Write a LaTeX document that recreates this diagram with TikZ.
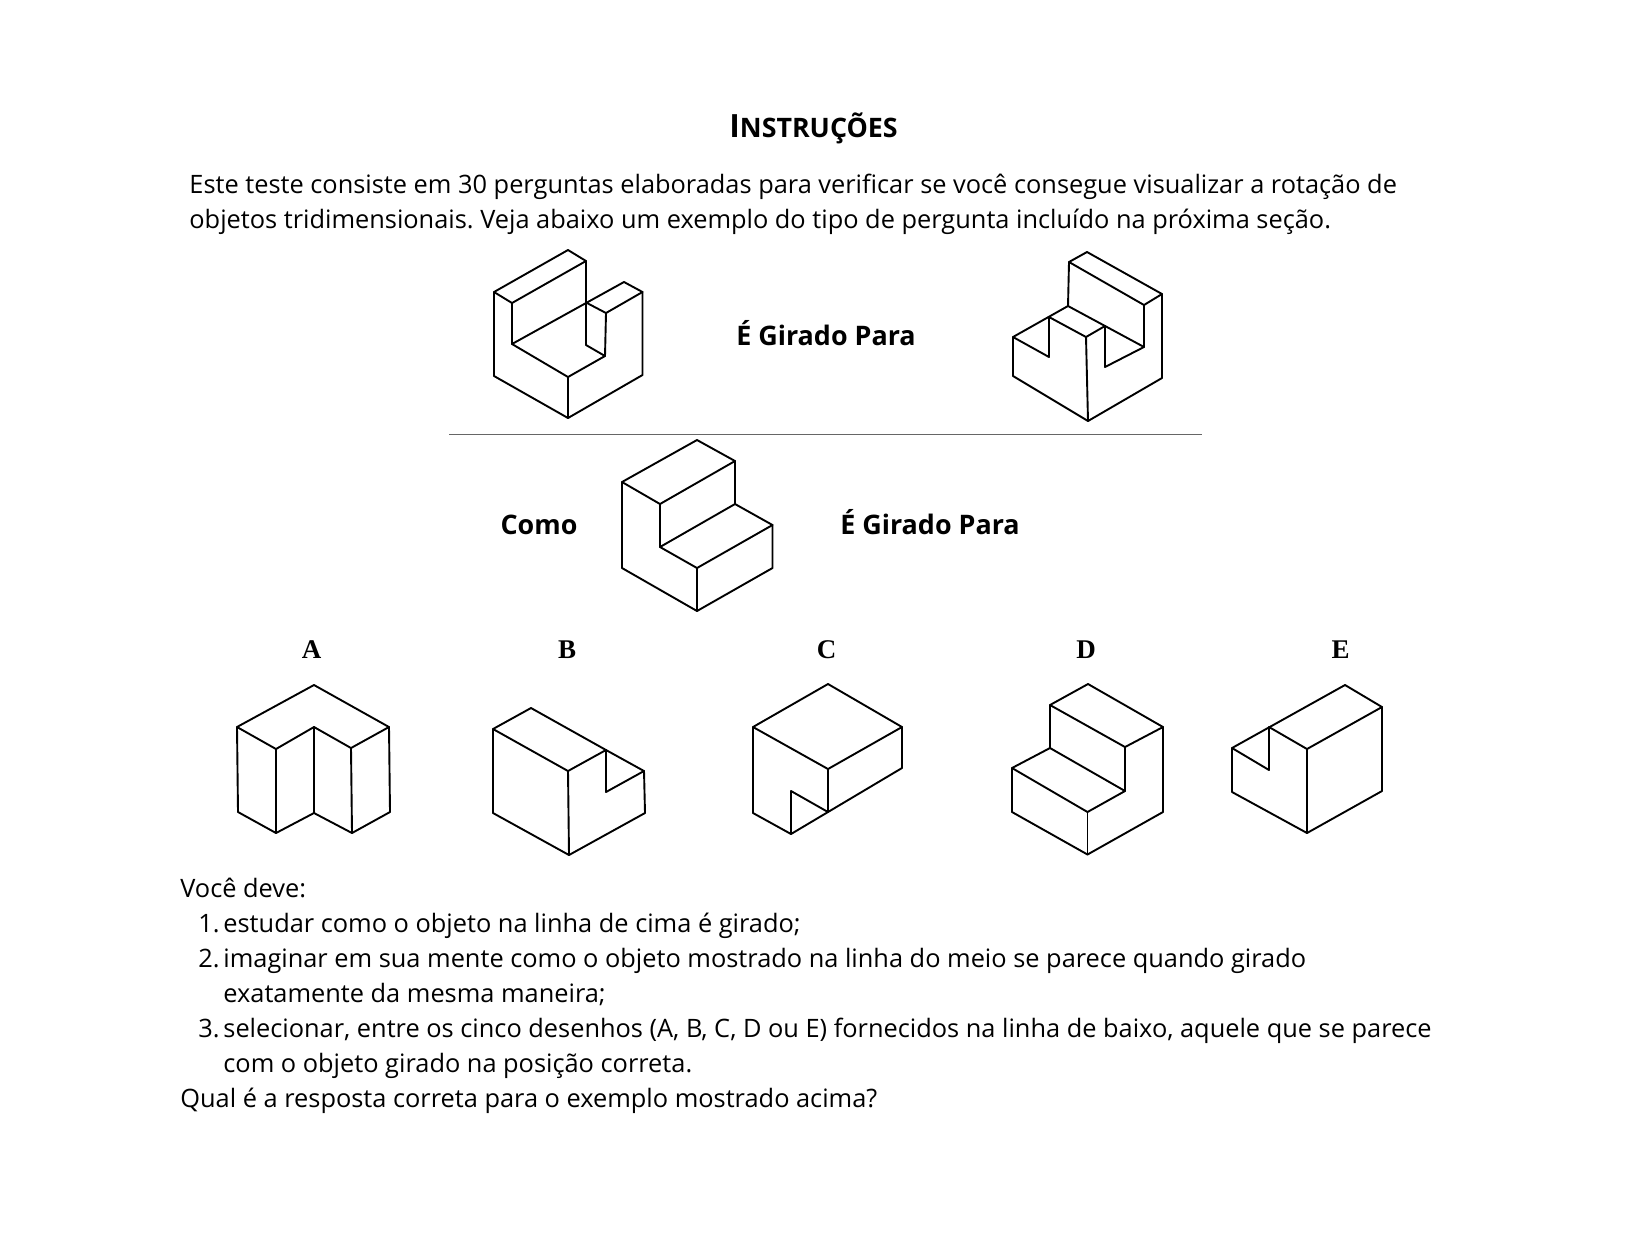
\documentclass[tikz,border=0pt]{standalone}
\usepackage{fontspec}
\setmainfont{Open Sans}
\newfontfamily\letterfont{Liberation Serif}
\usepackage{tikz}
\usetikzlibrary{positioning}
\frenchspacing
\tikzset{
    solidline/.style={draw, line width=0.95pt, line join=round, line cap=round},
    bodytext/.style={anchor=base west, inner sep=0pt, font=\fontsize{12.68}{16}\selectfont},
    caption/.style={anchor=base, inner sep=0pt, font=\fontsize{13.45}{16}\selectfont\bfseries},
    choice/.style={anchor=base, inner sep=0pt, font=\fontsize{13.5}{16}\selectfont\letterfont\bfseries}
}

\begin{document}
\begin{tikzpicture}[x=0.5pt, y=-0.5pt]
    \useasboundingbox (0,0) rectangle (1625,1250);

    % Heading and introduction
    \node[anchor=base, inner sep=0pt, font=\fontsize{16}{18}\selectfont\bfseries] (heading) at (813.5,137)
        {I{\fontsize{13.4}{18}\selectfont NSTRUÇÕES}};
    \node[bodytext] (intro1) at (189,193) {Este teste consiste em 30 perguntas elaboradas para verificar se você consegue visualizar a rotação de};
    \node[bodytext] (intro2) at (189,228) {objetos tridimensionais. Veja abaixo um exemplo do tipo de pergunta incluído na próxima seção.};

    % Top row
    \draw[solidline] (568,250) -- (586,261) -- (512,303) -- (494,292) -- cycle;
    \draw[solidline] (494,292) -- (494,376) -- (568,418) -- (642.5,375) -- (642.5,292) -- (624,282) -- (512,344) -- (512,303);
    \draw[solidline] (642.5,292) -- (606,313) -- (587,303);
    \draw[solidline] (586,261) -- (586,345) -- (605,356) -- (606,313);
    \draw[solidline] (605,356) -- (568,377) -- (512,344);
    \draw[solidline] (568,377) -- (568,418);
    \node[caption] (turn1) at (826,345) {É Girado Para};

    \draw[solidline] (1087,252) -- (1069,262) -- (1144,305) -- (1162,294) -- cycle;
    \draw[solidline] (1069,262) -- (1068,306) -- (1013,337) -- (1013,376) -- (1088,421) -- (1162,378) -- (1162,294);
    \draw[solidline] (1144,305) -- (1144,347) -- (1105,367) -- (1105,326);
    \draw[solidline] (1068,306) -- (1144,347);
    \draw[solidline] (1013,337) -- (1049,357) -- (1049,317);
    \draw[solidline] (1049,317) -- (1086,337) -- (1105,326);
    \draw[solidline] (1086,337) -- (1088,421);

    % Separator
    \draw[line width=0.6pt, black!60] (449,434.5) -- (1202,434.5);

    % Middle row
    \node[caption] (how) at (539,534) {Como};
    \draw[solidline] (697,440) -- (735,461) -- (660,504) -- (622,482) -- cycle;
    \draw[solidline] (622,482) -- (622,568) -- (697,611) -- (772.5,568) -- (772.5,525) -- (735,504) -- (735,461);
    \draw[solidline] (660,504) -- (660,547) -- (735,504);
    \draw[solidline] (660,547) -- (697,568) -- (772.5,525);
    \draw[solidline] (697,568) -- (697,611);
    \node[caption] (turn2) at (930,534) {É Girado Para};

    % Answers
    \node[choice] (choiceA) at (311.5,658) {A};
    \draw[solidline] (314,685) -- (237,727) -- (276,749) -- (314,727) -- (351,748) -- (389,727) -- cycle;
    \draw[solidline] (237,727) -- (238,812) -- (276,833) -- (314,813) -- (352,833) -- (390,812) -- (389,727);
    \draw[solidline] (276,749) -- (276,833);
    \draw[solidline] (314,727) -- (314,813);
    \draw[solidline] (351,748) -- (352,833);

    \node[choice] (choiceB) at (567,658) {B};
    \draw[solidline] (531,708) -- (493,729) -- (568,771) -- (606,750) -- cycle;
    \draw[solidline] (493,729) -- (493,813) -- (569,855) -- (645,813) -- (644,771) -- (606,750);
    \draw[solidline] (568,771) -- (569,855);
    \draw[solidline] (606,750) -- (606,792) -- (644,771);

    \node[choice] (choiceC) at (826.5,658) {C};
    \draw[solidline] (828,684) -- (753,727) -- (828,769) -- (902,727) -- cycle;
    \draw[solidline] (753,727) -- (753,813) -- (791,834) -- (902,768) -- (902,727);
    \draw[solidline] (828,769) -- (828,812) -- (791,791) -- (791,834);

    \node[choice] (choiceD) at (1086,658) {D};
    \draw[solidline] (1088,684) -- (1050,705) -- (1125,747) -- (1163,727) -- cycle;
    \draw[solidline] (1050,705) -- (1050,748) -- (1012,768) -- (1087.5,812) -- (1125,791) -- (1050,748);
    \draw[solidline] (1125,747) -- (1125,791);
    \draw[solidline] (1012,768) -- (1012,812) -- (1087.5,854.5) -- (1163,812) -- (1163,727);
    \draw[solidline] (1087.5,812) -- (1087.5,854.5);

    \node[choice] (choiceE) at (1340.5,658) {E};
    \draw[solidline] (1345,685) -- (1232,748) -- (1232,792) -- (1307,833) -- (1382,791) -- (1382,707) -- cycle;
    \draw[solidline] (1382,707) -- (1307,749) -- (1269,727) -- (1269,770) -- (1232,748);
    \draw[solidline] (1307,749) -- (1307,833);

    % Instructions
    \node[bodytext] (must) at (180,897) {Você deve:};
    \node[bodytext, anchor=base east] (num1) at (220,932) {1.};
    \node[bodytext] (item1) at (223,932) {estudar como o objeto na linha de cima é girado;};
    \node[bodytext, anchor=base east] (num2) at (220,967) {2.};
    \node[bodytext] (item2) at (223,967) {imaginar em sua mente como o objeto mostrado na linha do meio se parece quando girado};
    \node[bodytext] (item2b) at (223,1002) {exatamente da mesma maneira;};
    \node[bodytext, anchor=base east] (num3) at (220,1037) {3.};
    \node[bodytext] (item3) at (223,1037) {selecionar, entre os cinco desenhos (A, B, C, D ou E) fornecidos na linha de baixo, aquele que se parece};
    \node[bodytext] (item3b) at (223,1072) {com o objeto girado na posição correta.};
    \node[bodytext] (question) at (180,1107) {Qual é a resposta correta para o exemplo mostrado acima?};
\end{tikzpicture}
\end{document}
